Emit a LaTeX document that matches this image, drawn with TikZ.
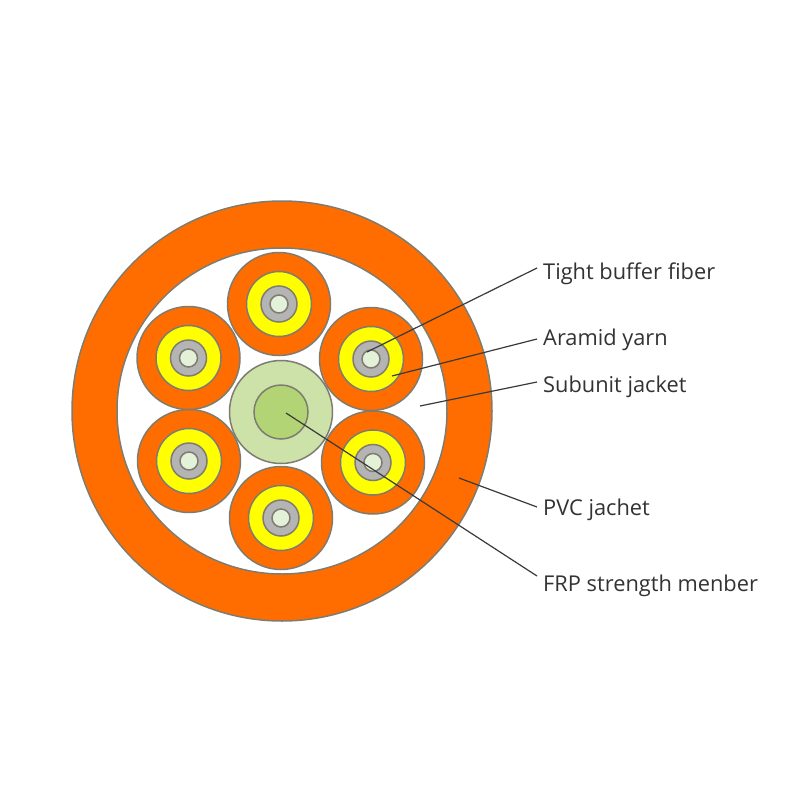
\documentclass[tikz,border=0pt]{standalone}
\usepackage{fontspec}
\usetikzlibrary{shapes.geometric}
\setmainfont{Open Sans}
\definecolor{jacket}{HTML}{FF6D00}
\definecolor{yarn}{HTML}{FFFF00}
\definecolor{buffer}{HTML}{B4B4B4}
\definecolor{fibercore}{HTML}{E3F1D8}
\definecolor{frpouter}{HTML}{CCE2A8}
\definecolor{frpinner}{HTML}{B3D474}
\definecolor{edgegray}{HTML}{7E7C70}
\definecolor{leader}{HTML}{3A3A3A}
\definecolor{labeltext}{HTML}{333333}
\tikzset{
  disc/.style n args={2}{circle,draw=edgegray,line width=1.5pt,fill=#1,minimum size=#2,inner sep=0pt,outer sep=0pt},
  leaderline/.style={draw=leader,line width=1.2pt},
  calllabel/.style={anchor=base west,inner xsep=6pt,inner ysep=0pt,text=labeltext,font=\fontsize{21.8pt}{25pt}\selectfont}
}
\begin{document}
\begin{tikzpicture}[x=1pt,y=-1pt]
\useasboundingbox (0,0) rectangle (800,800);
\fill[white] (0,0) rectangle (800,800);
% outer jacket
\node[disc={jacket}{420pt}] (pvc) at (282,411) {};
\node[ellipse,draw=edgegray,line width=1.5pt,fill=white,minimum width=330pt,minimum height=326pt,inner sep=0pt,outer sep=0pt] (cavity) at (282,411) {};
% central strength member
\node[disc={frpouter}{103pt}] (frpo) at (281,412) {};
\node[disc={frpinner}{54pt}] (frpi) at (281,412) {};
% subunits
\foreach \n/\x/\y in {a/279/304, b/371/359, c/373/462.5, d/281/518, e/189/461, f/188.5/358}{
  \node[disc={jacket}{103pt}] (sub\n) at (\x,\y) {};
  \node[disc={yarn}{65pt}] (yarn\n) at (\x,\y) {};
  \node[disc={buffer}{36pt}] (buf\n) at (\x,\y) {};
  \node[disc={fibercore}{18pt}] (core\n) at (\x,\y) {};
}
% labels
\node[calllabel] (ltight) at (537,279) {Tight buffer fiber};
\node[calllabel] (laramid) at (537,345) {Aramid yarn};
\node[calllabel] (lsub) at (537,392) {Subunit jacket};
\node[calllabel] (lpvc) at (537,515) {PVC jachet};
\node[calllabel] (lfrp) at (537,591) {FRP strength menber};
% connector anchors
\coordinate (ptight) at (367,352);
\coordinate (paramid) at (392,376);
\coordinate (psub) at (420,406);
\coordinate (ppvc) at (459,478);
\coordinate (pfrp) at (286,413);
\draw[leaderline] (ptight) -- ([yshift=11pt]ltight.base west);
\draw[leaderline] (paramid) -- ([yshift=6pt]laramid.base west);
\draw[leaderline] (psub) -- ([yshift=10pt]lsub.base west);
\draw[leaderline] (ppvc) -- ([yshift=8pt]lpvc.base west);
\draw[leaderline] (pfrp) -- ([yshift=15pt]lfrp.base west);
\end{tikzpicture}
\end{document}
